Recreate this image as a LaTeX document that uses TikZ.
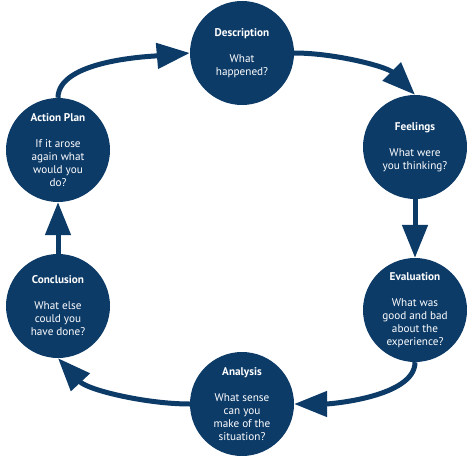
\documentclass[tikz,border=0pt]{standalone}
\usepackage{fontspec}
\setmainfont{PT Sans}
\usetikzlibrary{arrows.meta}
\definecolor{reflblue}{RGB}{13,59,104}

\begin{document}
\begin{tikzpicture}[
        x=1pt, y=-1pt, % координаты в пикселях, ось y вниз
        cell/.style={circle, fill=reflblue, text=white, minimum size=104pt, inner sep=0pt,
                align=center, font=\fontsize{11.2}{13}\selectfont}, % Стиль узлов
        step arrow/.style={draw=reflblue, line width=5pt, -{Triangle[length=33pt, width=25pt]}},
    ]
    \useasboundingbox (0,0) rectangle (474,460);

    \node[cell] (description) at (242,53) {\textbf{Description}\\[13pt]What\\happened?};
    \node[cell] (feelings) at (415,147) {\textbf{Feelings}\\[13pt]What were\\you thinking?};
    \node[cell] (evaluation) at (415,310) {\textbf{Evaluation}\\[13pt]What was\\good and bad\\about the\\experience?};
    \node[cell] (analysis) at (242,404) {\textbf{Analysis}\\[13pt]What sense\\can you\\make of the\\situation?};
    \node[cell] (conclusion) at (58,306) {\textbf{Conclusion}\\[13pt]What else\\could you\\have done?};
    \node[cell] (plan) at (58,150) {\textbf{Action Plan}\\[13pt]If it arose\\again what\\would you\\do?};

    % стрелки цикла
    \draw[step arrow] (plan.north) to[out=90, in=185, looseness=0.7] (description.west);
    \draw[step arrow] (description.east) to[out=0, in=135, looseness=0.8] (feelings.north);
    \draw[step arrow] (feelings.south) -- (evaluation.north);
    \draw[step arrow] (evaluation.south) to[out=-90, in=0, looseness=0.7] (analysis.east);
    \draw[step arrow] (analysis.west) to[out=180, in=-47, looseness=0.8] (conclusion.south);
    \draw[step arrow] (conclusion.north) -- (plan.south);
\end{tikzpicture}
\end{document}
